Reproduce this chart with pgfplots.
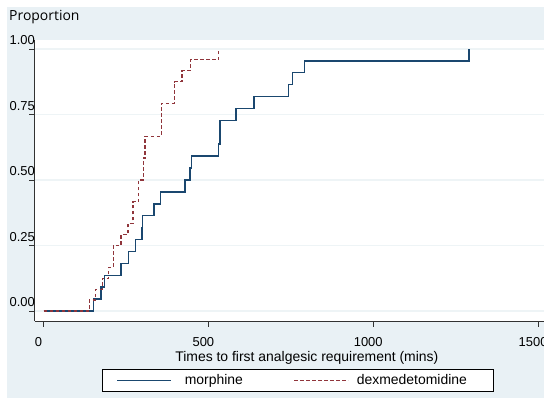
\documentclass[border=0pt]{standalone}
\usepackage{pgfplots}
\pgfplotsset{compat=1.18}
\usepackage{fontspec}
\setmainfont{Liberation Sans}
\newfontfamily\opensans{Open Sans}
\definecolor{bgblue}{RGB}{233,241,245}
\definecolor{gridc}{RGB}{238,244,246}
\definecolor{stnavy}{RGB}{26,71,111}
\definecolor{stmaroon}{RGB}{144,53,59}
\definecolor{axisc}{RGB}{50,50,50}
\begin{document}
\begin{tikzpicture}
\useasboundingbox (0,0) rectangle (544bp,399bp);
\clip (0,0) rectangle (544bp,399bp);
\fill[white] (0,0) rectangle (544bp,399bp);
\fill[bgblue] (7bp,1bp) rectangle (544bp,392bp);
\node[anchor=base west, inner sep=0pt, font=\opensans\fontsize{14}{16}\selectfont] at (9bp,378.5bp) {Proportion};
\begin{axis}[
  at={(35bp,78bp)}, anchor=south west,
  width=509bp, height=281bp, scale only axis,
  xmin=-25.8, xmax=1518, ymin=-0.038, ymax=1.034,
  axis x line*=bottom, axis y line*=left,
  axis line style={axisc, line width=1bp},
  axis background/.style={fill=white},
  xtick={0,500,1000,1500}, xticklabels={0,500,1000,1500},
  ytick={0,0.25,0.5,0.75,1}, yticklabels={0.00,0.25,0.50,0.75,1.00},
  tick align=outside, major tick length=5.5bp,
  tick style={axisc, line width=0.8bp},
  ymajorgrids, grid style={gridc, line width=1.5bp},
  yticklabel style={anchor=south east, inner sep=0pt, xshift=5.5bp, yshift=4bp, font=\fontsize{13}{15}\selectfont},
  xticklabel style={anchor=north, inner sep=0pt, xshift=-5bp, yshift=-10.5bp, font=\fontsize{13}{15}\selectfont},
  xlabel={Times to first analgesic requirement (mins)},
  xlabel style={at={(axis description cs:0.534,0)}, anchor=base, yshift=-40.7bp, inner sep=0pt, font=\fontsize{14}{16}\selectfont},
  legend columns=2,
  legend image code/.code={\draw[#1] (0bp,0bp) -- (54bp,0bp);},
  legend style={at={(0.516,0)}, anchor=center, yshift=-59.5bp, draw=black, line width=0.8bp, fill=white,
    inner xsep=14bp, inner ysep=5bp, font=\fontsize{14}{16}\selectfont,
    nodes={inner sep=0pt},
    /tikz/column 1/.style={column sep=13bp},
    /tikz/column 2/.style={column sep=50.6bp},
    /tikz/column 3/.style={column sep=8bp}},
]
\addplot[const plot, stnavy, line width=1.5bp] coordinates {
(0,0) (152,0.04545) (175,0.09091) (185,0.13636) (235,0.18182) (258,0.22727)
(279,0.27273) (298,0.31818) (301,0.36364) (335,0.40909) (355,0.45455)
(429,0.5) (445,0.54545) (449,0.59091) (531,0.63636) (536,0.72727)
(584,0.77273) (639,0.81818) (743,0.86364) (755,0.90909) (792,0.95455) (1290,1.0)
};
\addlegendentry{morphine}
\addplot[const plot, stmaroon, line width=1.3bp, dash pattern=on 3.5bp off 2.5bp] coordinates {
(0,0) (139,0.04167) (158,0.08333) (178,0.125) (198,0.16667) (212,0.25)
(235,0.29167) (256,0.33333) (271,0.41667) (289,0.5) (303,0.58333) (308,0.66667)
(357,0.79167) (397,0.875) (420,0.91667) (445,0.95833) (531,1.0)
};
\addlegendentry{dexmedetomidine\hspace*{12bp}}
\end{axis}
\end{tikzpicture}
\end{document}
